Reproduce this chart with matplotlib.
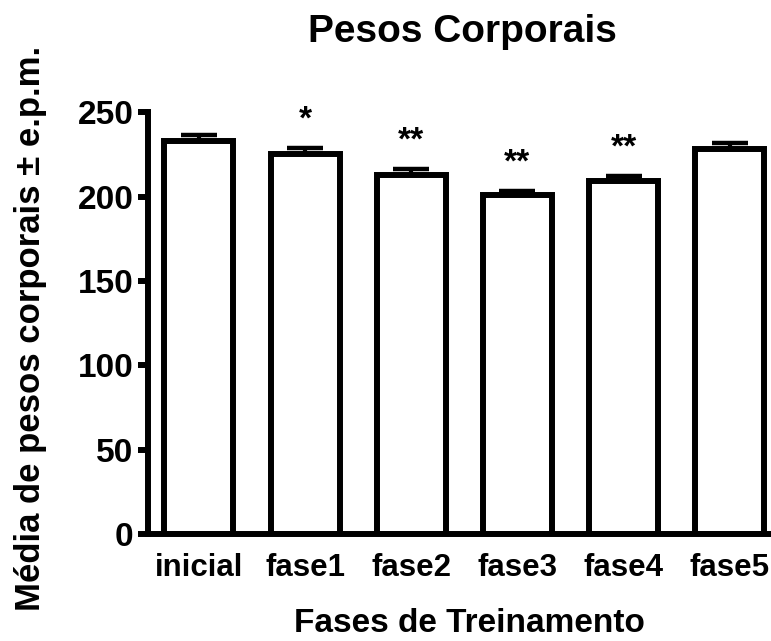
import matplotlib
matplotlib.use("Agg")
import matplotlib.pyplot as plt

# dados
fases = ["inicial", "fase1", "fase2", "fase3", "fase4", "fase5"]
medias = [233, 225, 213, 201, 209, 228]
epm = [3.5, 3.5, 3.5, 2.5, 3.0, 3.5]
signif = ["", "*", "**", "**", "**", ""]

plt.rcParams["font.family"] = ["Liberation Sans", "DejaVu Sans"]
plt.rcParams["font.weight"] = "bold"

fig = plt.figure(figsize=(7.71, 6.41), dpi=100)
ax = fig.add_axes([0.192, 0.167, 0.8067, 0.658])

x = list(range(len(fases)))
lw = 4.3
ax.bar(x, medias, width=0.65, color="white", edgecolor="black", linewidth=lw, zorder=2)
ax.errorbar(x, medias, yerr=[[0] * len(epm), epm], fmt="none", ecolor="black",
            elinewidth=3, capsize=13, capthick=3.2, zorder=1)

# asteriscos de significância
for xi, m, e, s in zip(x, medias, epm, signif):
    if s:
        ax.annotate(s, xy=(xi, m + e), xytext=(0, 14), textcoords="offset points",
                    ha="center", va="baseline", fontsize=24, fontweight="bold")

ax.set_xlim(-0.48, 5.38)
ax.set_ylim(0, 250)
ax.set_yticks([0, 50, 100, 150, 200, 250])
ax.set_xticks(x)
ax.set_xticklabels(fases)
ax.tick_params(axis="y", length=7.5, width=lw, labelsize=24, pad=3)
ax.tick_params(axis="x", length=0, labelsize=22.5, pad=14)
for lbl in ax.get_xticklabels() + ax.get_yticklabels():
    lbl.set_fontweight("bold")

ax.spines["top"].set_visible(False)
ax.spines["right"].set_visible(False)
ax.spines["left"].set_linewidth(lw)
ax.spines["bottom"].set_linewidth(lw)

fig.text(0.6, 0.934, "Pesos Corporais", ha="center", va="baseline", fontsize=28, fontweight="bold")
fig.text(0.609, 0.014, "Fases de Treinamento", ha="center", va="baseline", fontsize=24, fontweight="bold")
fig.text(0.04, 0.488, "Média de pesos corporais ± e.p.m.", ha="center", va="center",
         rotation=90, fontsize=25, fontweight="bold")

fig.savefig("out.png", dpi=100)
